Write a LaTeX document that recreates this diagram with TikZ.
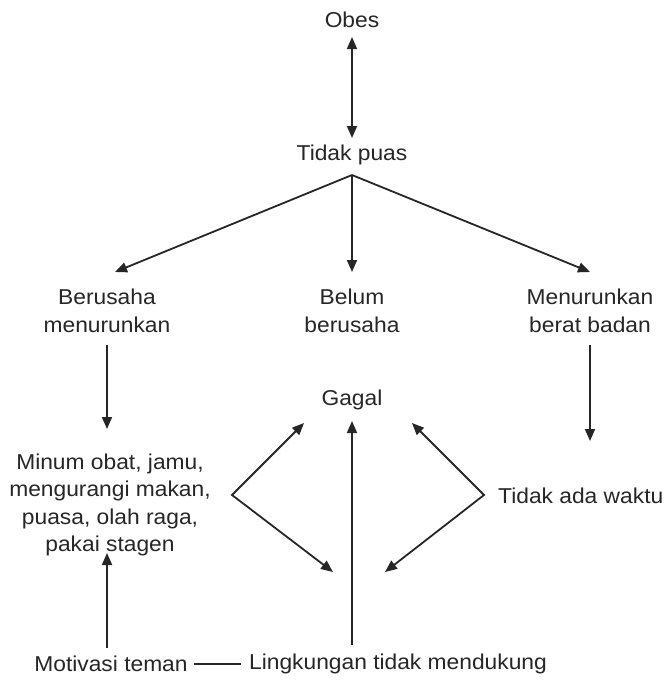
\documentclass[tikz,border=0pt]{standalone}
\usepackage{fontspec}
\setmainfont[FakeStretch=1.06]{Liberation Sans}
\usetikzlibrary{arrows.meta}
\begin{document}
\begin{tikzpicture}[x=1pt,y=-1pt,
  lbl/.style={inner sep=0pt,align=center,text=black!85,font=\fontsize{21.5}{27.5}\selectfont},
  conn/.style={line width=1.8pt,draw=black!85,-{Triangle[length=12pt,width=10pt]}},
  plain/.style={line width=1.8pt,draw=black!85}]
\useasboundingbox (0,0) rectangle (669,680);
\node[lbl] (obes) at (352,20) {Obes};
\node[lbl] (tp) at (352,155) {Tidak puas};
\node[lbl] (bm) at (107,311) {Berusaha\\menurunkan};
\node[lbl] (bb) at (352,311) {Belum\\berusaha};
\node[lbl] (mb) at (590,311) {Menurunkan\\berat badan};
\node[lbl] (gg) at (352,400) {Gagal};
\node[lbl] (mo) at (110,505) {Minum obat, jamu,\\mengurangi makan,\\puasa, olah raga,\\pakai stagen};
\node[lbl,anchor=west] (tw) at (498,496) {Tidak ada waktu};
\node[lbl] (lk) at (398,664) {Lingkungan tidak mendukung};
\node[lbl] (mt) at (111,664) {Motivasi teman};
% helper coordinates
\coordinate (apex) at (352,175);
\coordinate (lv) at (232,495);
\coordinate (rv) at (484,495);
\coordinate (lt) at (304,423);
\coordinate (lb) at (333,572);
\coordinate (rt) at (412,423);
\coordinate (rb) at (385,572);
% connectors
\draw[conn,{Triangle[length=12pt,width=10pt]}-{Triangle[length=12pt,width=10pt]}] (352,37) -- (352,138);
\draw[conn] (apex) -- (115,272);
\draw[conn] (apex) -- (352,272);
\draw[conn] (apex) -- (590,272);
\draw[conn] (107,345) -- (107,429);
\draw[conn] (590,345) -- (590,441);
\draw[conn] (352,645) -- (352,421);
\draw[conn,{Triangle[length=12pt,width=10pt]}-{Triangle[length=12pt,width=10pt]}] (lt) -- (lv) -- (lb);
\draw[conn,{Triangle[length=12pt,width=10pt]}-{Triangle[length=12pt,width=10pt]}] (rt) -- (rv) -- (rb);
\draw[conn] (107,648) -- (107,553);
\draw[plain] (mt.east)++(6,0) -- ([xshift=-8pt]lk.west);
\end{tikzpicture}
\end{document}
